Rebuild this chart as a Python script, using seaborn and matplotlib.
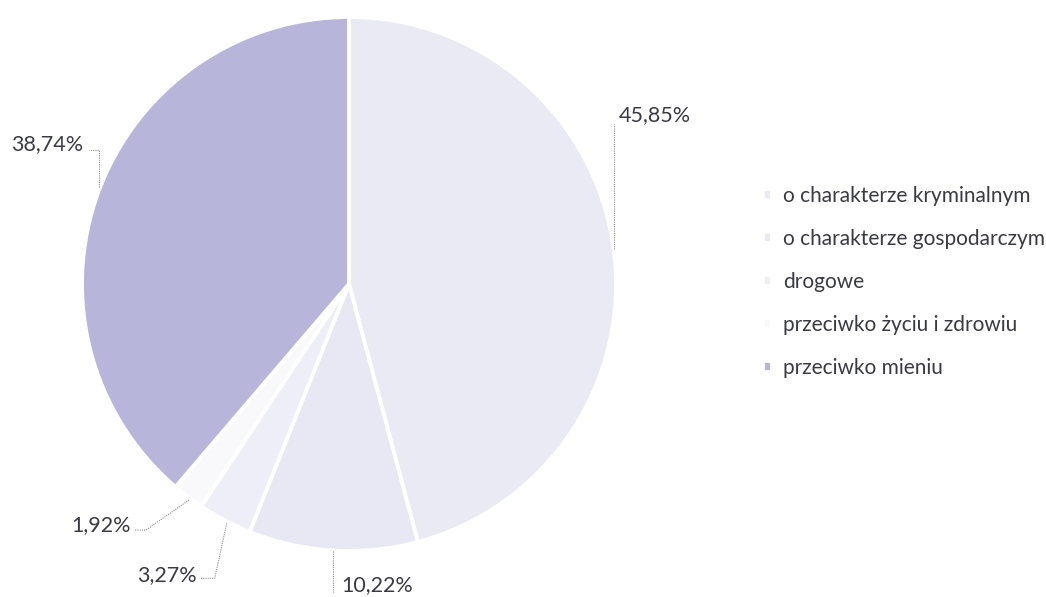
"""Pie chart: struktura przestępstw stwierdzonych (kategorie)."""

import matplotlib
matplotlib.use("Agg")
import matplotlib.pyplot as plt
import numpy as np
import seaborn as sns

# ---------------------------------------------------------------------------
# Data
# ---------------------------------------------------------------------------

categories = [
    "o charakterze kryminalnym",
    "o charakterze gospodarczym",
    "drogowe",
    "przeciwko życiu i zdrowiu",
    "przeciwko mieniu",
]
shares = [45.85, 10.22, 3.27, 1.92, 38.74]
share_labels = ["45,85%", "10,22%", "3,27%", "1,92%", "38,74%"]

# scanned lavender tones, lightest to darkest
colors = ["#eaeaf5", "#e7e8f3", "#edeef7", "#f9f9fc", "#b8b5da"]

# leader layout per label: elbow points (dx, dy in px from wedge edge),
# text offset and alignment
leader_paths = [
    [(0, 0), (0, 125)],
    [(0, 0), (0, -42)],
    [(2, -3), (-10, -58), (-25, -58)],
    [(1, -3), (-42, -33), (-54, -33)],
    [(0, 5), (0, 42), (-10, 42)],
]
text_offsets = [(5, 134), (8, -35), (-28, -55), (-57, -28), (-15, 47)]
text_align = ["left", "left", "right", "right", "right"]

TEXT_COLOR = "#3a3a44"

# ---------------------------------------------------------------------------
# Plot
# ---------------------------------------------------------------------------

sns.set_theme(style="white")
plt.rcParams["font.family"] = ["Lato", "DejaVu Sans"]

W, H = 1046, 597
fig = plt.figure(figsize=(W / 100, H / 100), dpi=100)
ax = fig.add_axes([0, 0, 1, 1])

center = (349, 313)
radius = 267
wedges, _ = ax.pie(
    shares,
    colors=colors,
    startangle=90,
    counterclock=False,
    center=center,
    radius=radius,
    wedgeprops=dict(edgecolor="white", linewidth=2.8),
)
ax.set_xlim(0, W)
ax.set_ylim(0, H)
ax.set_aspect("equal")
ax.axis("off")

for w, path, off, ha, lab in zip(wedges, leader_paths, text_offsets, text_align, share_labels):
    mid = np.deg2rad((w.theta1 + w.theta2) / 2)
    ex = center[0] + radius * np.cos(mid)
    ey = center[1] + radius * np.sin(mid)
    xs = [ex + p[0] for p in path]
    ys = [ey + p[1] for p in path]
    ax.plot(xs, ys, color="#8c8c8c", linewidth=0.8, linestyle=(0, (1, 1)))
    ax.text(ex + off[0], ey + off[1], lab, ha=ha, va="center",
            fontsize=15.5, color=TEXT_COLOR)

leg = ax.legend(
    wedges,
    categories,
    loc="center left",
    bbox_to_anchor=(763 / W, 1 - 282 / H),
    bbox_transform=fig.transFigure,
    frameon=False,
    fontsize=15,
    handlelength=0.42,
    handleheight=0.42,
    handletextpad=0.55,
    labelspacing=1.1,
    borderpad=0,
    borderaxespad=0,
)
for t in leg.get_texts():
    t.set_color(TEXT_COLOR)

fig.savefig("out.png", dpi=100, facecolor="white")
plt.close(fig)
